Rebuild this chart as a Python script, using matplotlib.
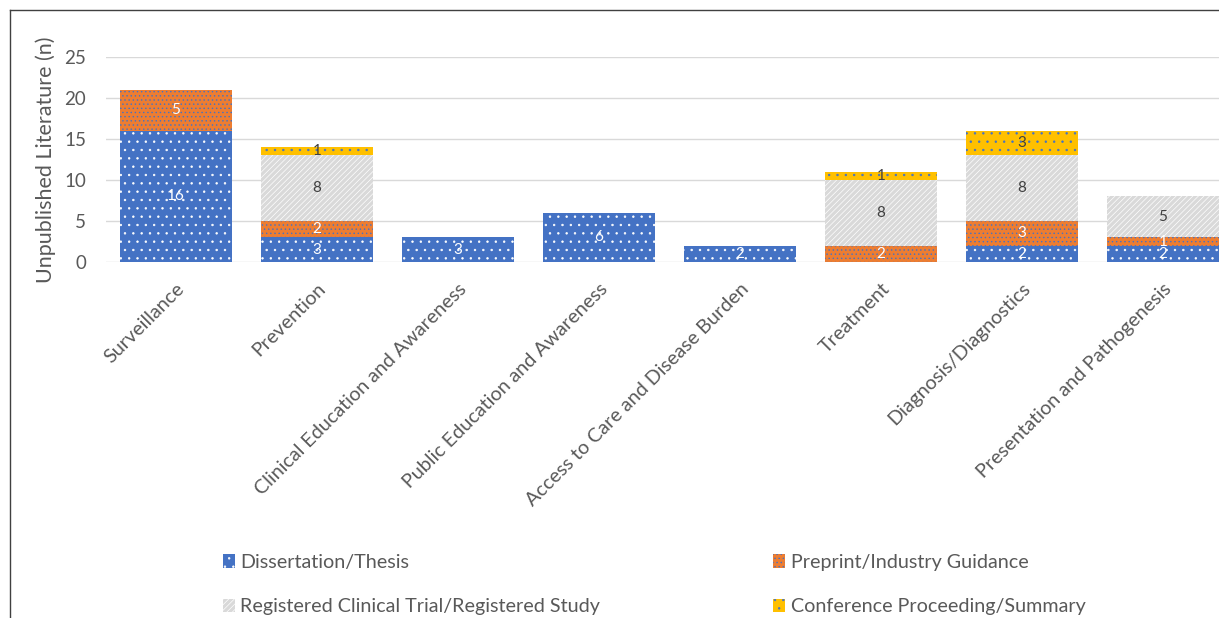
import matplotlib.pyplot as plt
from matplotlib.lines import Line2D
import numpy as np

plt.rcParams['font.family'] = ['Lato', 'DejaVu Sans']
plt.rcParams['hatch.linewidth'] = 0.5

categories = ['Surveillance', 'Prevention', 'Clinical Education and Awareness',
              'Public Education and Awareness', 'Access to Care and Disease Burden',
              'Treatment', 'Diagnosis/Diagnostics', 'Presentation and Pathogenesis']
dissertation = [16, 3, 3, 6, 2, 0, 2, 2]
preprint = [5, 2, 0, 0, 0, 2, 3, 1]
registered = [0, 8, 0, 0, 0, 8, 8, 5]
conference = [0, 1, 0, 0, 0, 1, 3, 0]

series = [
    ('Dissertation/Thesis', dissertation, '#4472C4', 'white', '..', 'white'),
    ('Preprint/Industry Guidance', preprint, '#ED7D31', '#4472C4', '....', 'white'),
    ('Registered Clinical Trial/Registered Study', registered, '#D9D9D9', 'white', '//////', '#404040'),
    ('Conference Proceeding/Summary', conference, '#FFC000', '#4472C4', '..', '#404040'),
]

fig = plt.figure(figsize=(12.19, 6.18), dpi=100)
ax = fig.add_axes([105.5 / 1219, 1 - 262 / 618, 1128 / 1219, 205 / 618])

x = np.arange(len(categories))
bottom = np.zeros(len(categories))
handles = {}
for name, vals, col, hcol, hatch, tcol in series:
    vals = np.array(vals, dtype=float)
    bars = ax.bar(x, vals, 0.8, bottom=bottom, color=col, edgecolor=hcol,
                  hatch=hatch, linewidth=0, label=name, zorder=2)
    handles[name] = bars
    for xi, v, b in zip(x, vals, bottom):
        if v > 0:
            ax.text(xi, b + v / 2, f'{int(v)}', ha='center', va='center',
                    color=tcol, fontsize=11, zorder=3)
    bottom += vals

ax.set_xlim(-0.5, len(categories) - 0.5)
ax.set_ylim(0, 25)
ax.set_yticks(range(0, 26, 5))
ax.yaxis.grid(True, color='#D9D9D9', linewidth=1, zorder=0)
ax.set_axisbelow(True)
for s in ax.spines.values():
    s.set_visible(False)
ax.tick_params(length=0, colors='#595959', labelsize=13.5)
ax.tick_params(axis='y', pad=14)
ax.tick_params(axis='x', pad=13)
ax.set_xticks(x)
ax.set_xticklabels(categories, rotation=45, ha='right', rotation_mode='anchor',
                   fontsize=14.2, color='#595959')
ax.set_ylabel('Unpublished Literature (n)', fontsize=15.5, color='#595959', labelpad=6)

order = ['Dissertation/Thesis', 'Registered Clinical Trial/Registered Study',
         'Preprint/Industry Guidance', 'Conference Proceeding/Summary']
fig.legend([handles[n] for n in order], order, ncol=2, frameon=False,
           loc='upper left', bbox_to_anchor=(205 / 1219, 1 - 536 / 618),
           fontsize=14.2, handlelength=0.6, handleheight=0.7, handletextpad=0.3,
           columnspacing=8.75, labelspacing=1.4, labelcolor='#595959')

# chart frame
fig.add_artist(Line2D([10 / 1219, 10 / 1219], [0, 1 - 10 / 618], color='#404040', lw=1))
fig.add_artist(Line2D([10 / 1219, 1], [1 - 10 / 618, 1 - 10 / 618], color='#404040', lw=1))

fig.savefig('out.png', dpi=100)
